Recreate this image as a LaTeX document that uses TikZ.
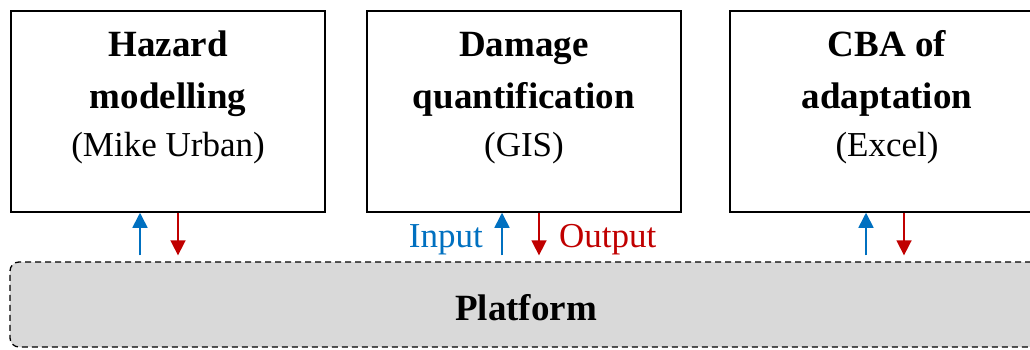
\documentclass[tikz,border=0pt]{standalone}
\usepackage{fontspec}
\setmainfont{Liberation Serif}
\usetikzlibrary{arrows.meta}
\definecolor{inblue}{HTML}{0070C0}
\definecolor{outred}{HTML}{C00000}
\definecolor{platgrey}{HTML}{D9D9D9}
\tikzset{
  toolbox/.style={draw=black, line width=1.5pt, fill=white, minimum width=314pt, minimum height=201pt, inner sep=0pt},
  platbox/.style={draw=black, line width=1.3pt, dash pattern=on 6pt off 4pt, rounded corners=9pt, fill=platgrey, minimum width=1040pt, minimum height=85pt, inner sep=0pt},
  txt/.style={anchor=base, inner sep=0pt, font=\fontsize{35}{42}\selectfont},
  btxt/.style={txt, font=\fontsize{37}{44}\selectfont\bfseries},
  smalltxt/.style={inner sep=0pt, font=\fontsize{35}{42}\selectfont},
  inarrow/.style={draw=inblue, line width=1.6pt, -{Triangle[width=15pt,length=15pt]}},
  outarrow/.style={draw=outred, line width=1.6pt, -{Triangle[width=15pt,length=15pt]}},
}
\begin{document}
\begin{tikzpicture}[x=1pt, y=-1pt]
\useasboundingbox (0,0) rectangle (1030,350);

% platform
\node[platbox] (plat) at (530,304.5) {};
\node[btxt] (platlbl) at (526,320) {Platform};

% tool boxes
\node[toolbox] (b1) at (168,111.5) {};
\node[toolbox] (b2) at (524,111.5) {};
\node[toolbox] (b3) at (887,111.5) {};

\node[btxt] (b1a) at (168,57) {Hazard};
\node[btxt] (b1b) at (168,109) {modelling};
\node[txt]  (b1c) at (168,157) {(Mike Urban)};

\node[btxt] (b2a) at (524,57) {Damage};
\node[btxt] (b2b) at (524,109) {quantification};
\node[txt]  (b2c) at (524,157) {(GIS)};

\node[btxt] (b3a) at (887,57) {CBA of};
\node[btxt] (b3b) at (887,109) {adaptation};
\node[txt]  (b3c) at (887,157) {(Excel)};

% data exchange with the platform
\draw[inarrow, shorten <=6pt]  ([xshift=-28pt]b1.south |- plat.north) -- ([xshift=-28pt]b1.south);
\draw[outarrow, shorten >=6pt] ([xshift=10pt]b1.south) -- ([xshift=10pt]b1.south |- plat.north);
\draw[inarrow, shorten <=6pt]  ([xshift=-22pt]b2.south |- plat.north) -- ([xshift=-22pt]b2.south);
\draw[outarrow, shorten >=6pt] ([xshift=15pt]b2.south) -- ([xshift=15pt]b2.south |- plat.north);
\draw[inarrow, shorten <=6pt]  ([xshift=-21pt]b3.south |- plat.north) -- ([xshift=-21pt]b3.south);
\draw[outarrow, shorten >=6pt] ([xshift=17pt]b3.south) -- ([xshift=17pt]b3.south |- plat.north);

\node[smalltxt, anchor=base east, text=inblue] (inlbl) at (483,247) {Input};
\node[smalltxt, anchor=base west, text=outred] (outlbl) at (559,247) {Output};
\end{tikzpicture}
\end{document}
